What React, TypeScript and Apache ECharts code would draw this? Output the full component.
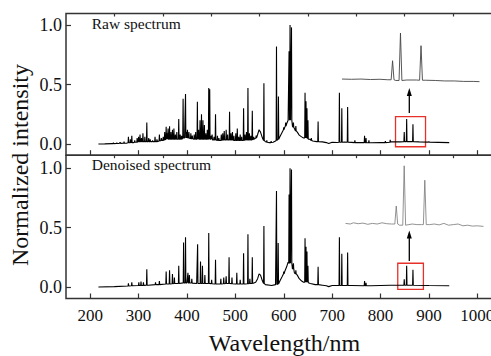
import React, { useEffect, useRef } from "react";
import * as echarts from "echarts";

const xTicks = [200, 300, 400, 500, 600, 700, 800, 900, 1000];
const xMinorTicks = [250, 350, 450, 550, 650, 750, 850, 950];
const yTicks = [0, 0.5, 1.0];
const yMinorTicks = [0.25, 0.75];

// Raw spectrum: baseline readings [wavelength, intensity]
const rawBaseline: [number, number][] = [
  [217, 0.0], [230, 0.001], [245, 0.003], [260, 0.005], [275, 0.007], [290, 0.012],
  [305, 0.018], [320, 0.02], [335, 0.022], [350, 0.03], [365, 0.04], [380, 0.04],
  [395, 0.05], [410, 0.045], [425, 0.04], [440, 0.04], [455, 0.035], [470, 0.03],
  [485, 0.035], [500, 0.03], [515, 0.03], [530, 0.035], [540, 0.045], [546, 0.08],
  [549, 0.12], [552, 0.1], [556, 0.05], [562, 0.02], [570, 0.012], [578, 0.015],
  [583, 0.025], [592, 0.06], [597, 0.1], [602, 0.14], [606, 0.17], [609, 0.2],
  [614, 0.2], [618, 0.15], [622, 0.13], [628, 0.1], [632, 0.075], [637, 0.06],
  [641, 0.05], [654, 0.04], [660, 0.025], [668, 0.02], [680, 0.018], [688, 0.012],
  [693, 0.004], [700, 0.015], [710, 0.013], [726, 0.016], [740, 0.014], [755, 0.012],
  [780, 0.01], [800, 0.012], [822, 0.018], [840, 0.018], [860, 0.02], [880, 0.018],
  [900, 0.016], [920, 0.014], [942, 0.012],
];
// Raw spectrum lines: [wavelength, peak intensity, foot intensity]
const rawPeaks: [number, number, number][] = [
  [248, 0.012, 0.003], [255, 0.012, 0.004], [262, 0.015, 0.005], [270, 0.02, 0.006],
  [279, 0.06, 0.01], [283, 0.04, 0.01], [286, 0.07, 0.012], [292, 0.03, 0.015],
  [297, 0.05, 0.015], [300, 0.06, 0.02], [303, 0.08, 0.02], [306, 0.05, 0.02],
  [309, 0.09, 0.02], [313, 0.06, 0.02], [317, 0.18, 0.02], [321, 0.05, 0.02],
  [324, 0.04, 0.02], [329, 0.03, 0.02], [334, 0.06, 0.02], [338, 0.04, 0.02],
  [343, 0.08, 0.025], [347, 0.05, 0.03], [351, 0.06, 0.03], [354, 0.1, 0.035],
  [357, 0.145, 0.04], [359, 0.09, 0.04], [361, 0.13, 0.04], [364, 0.15, 0.04],
  [367, 0.1, 0.04], [370, 0.12, 0.04], [373, 0.13, 0.04], [376, 0.08, 0.04],
  [379, 0.1, 0.04], [383, 0.21, 0.04], [386, 0.08, 0.04], [389, 0.07, 0.04],
  [392, 0.38, 0.05], [397, 0.42, 0.05], [399, 0.1, 0.05], [401, 0.12, 0.05],
  [404, 0.1, 0.05], [408, 0.09, 0.045], [411, 0.07, 0.045], [415, 0.08, 0.04],
  [418, 0.1, 0.04], [421.5, 0.355, 0.04], [424, 0.12, 0.04], [427, 0.2, 0.04],
  [430, 0.25, 0.04], [433, 0.2, 0.04], [436, 0.16, 0.04], [439, 0.09, 0.04],
  [442, 0.12, 0.04], [445, 0.47, 0.04], [447, 0.46, 0.04], [450, 0.07, 0.04],
  [452, 0.08, 0.035], [456, 0.06, 0.035], [459, 0.25, 0.035], [463, 0.07, 0.03],
  [466, 0.05, 0.03], [471, 0.08, 0.03], [474, 0.09, 0.035], [477, 0.11, 0.035],
  [481, 0.12, 0.035], [484, 0.08, 0.035], [488, 0.27, 0.035], [491, 0.09, 0.035],
  [494, 0.1, 0.035], [497, 0.07, 0.03], [501, 0.09, 0.03], [504, 0.13, 0.03],
  [507, 0.06, 0.03], [510, 0.08, 0.03], [513, 0.06, 0.03], [517, 0.3, 0.03],
  [520, 0.08, 0.035], [523, 0.1, 0.035], [526, 0.47, 0.035], [529, 0.09, 0.035],
  [532, 0.07, 0.035], [535, 0.28, 0.035], [538, 0.06, 0.04], [543, 0.07, 0.05],
  [559, 0.51, 0.03], [565, 0.03, 0.015], [574, 0.025, 0.012], [585, 0.82, 0.03],
  [589, 0.4, 0.04], [600, 0.14, 0.12], [604, 0.18, 0.15], [611, 0.78, 0.2],
  [613, 1.0, 0.21], [616, 0.98, 0.2], [620, 0.18, 0.14], [625, 0.15, 0.11],
  [644, 0.43, 0.05], [646, 0.36, 0.05], [648, 0.3, 0.045], [650, 0.2, 0.04],
  [657, 0.05, 0.03], [671, 0.19, 0.02], [715, 0.43, 0.015], [720, 0.3, 0.015],
  [732, 0.31, 0.015], [747, 0.03, 0.012], [767, 0.07, 0.012], [770, 0.05, 0.012],
  [776, 0.03, 0.01], [810, 0.025, 0.012], [820, 0.035, 0.015], [849, 0.1, 0.02],
  [854, 0.21, 0.02], [867, 0.165, 0.02], [900, 0.022, 0.016],
];

// Denoised spectrum
const denBaseline: [number, number][] = [
  [217, 0.0], [250, 0.003], [280, 0.008], [300, 0.012], [320, 0.015], [340, 0.02],
  [360, 0.025], [380, 0.03], [400, 0.035], [420, 0.03], [440, 0.03], [460, 0.025],
  [480, 0.03], [500, 0.025], [520, 0.025], [537, 0.03], [542, 0.04], [546, 0.07],
  [549, 0.11], [552, 0.1], [556, 0.05], [562, 0.02], [575, 0.012], [583, 0.02],
  [592, 0.05], [597, 0.09], [602, 0.13], [606, 0.17], [609, 0.21], [614, 0.2],
  [618, 0.15], [622, 0.12], [628, 0.1], [632, 0.07], [637, 0.05], [641, 0.04],
  [655, 0.03], [665, 0.02], [680, 0.015], [688, 0.01], [693, 0.003], [700, 0.012],
  [740, 0.012], [780, 0.01], [820, 0.015], [860, 0.015], [900, 0.012], [942, 0.01],
];
const denPeaks: [number, number, number][] = [
  [279, 0.03, 0.008], [286, 0.04, 0.01], [300.5, 0.04, 0.012], [305, 0.045, 0.013],
  [310, 0.04, 0.014], [317, 0.15, 0.015], [335, 0.04, 0.02], [343, 0.05, 0.02],
  [357, 0.13, 0.025], [364, 0.14, 0.025], [370, 0.11, 0.028], [374, 0.08, 0.03],
  [383, 0.18, 0.03], [393, 0.375, 0.035], [397, 0.42, 0.035], [402, 0.12, 0.035],
  [405, 0.1, 0.035], [410, 0.07, 0.033], [422, 0.36, 0.03], [428, 0.215, 0.03],
  [432, 0.18, 0.03], [437, 0.1, 0.03], [445, 0.455, 0.03], [451, 0.06, 0.028],
  [459, 0.23, 0.025], [470, 0.07, 0.025], [476, 0.08, 0.028], [481, 0.09, 0.03],
  [487, 0.25, 0.03], [493, 0.08, 0.028], [503, 0.12, 0.025], [510, 0.06, 0.025],
  [517, 0.285, 0.025], [526, 0.445, 0.028], [530, 0.07, 0.03], [535, 0.25, 0.03],
  [559, 0.515, 0.03], [585, 0.81, 0.02], [588.5, 0.37, 0.025], [600, 0.13, 0.11],
  [611, 0.78, 0.2], [613, 1.0, 0.21], [616, 0.99, 0.2], [620, 0.2, 0.15],
  [625, 0.14, 0.11], [644, 0.41, 0.04], [646, 0.34, 0.04], [648, 0.3, 0.04],
  [650, 0.18, 0.035], [671, 0.17, 0.02], [715, 0.42, 0.012], [720, 0.28, 0.012],
  [732, 0.29, 0.012], [767, 0.05, 0.01], [770, 0.035, 0.01], [849, 0.065, 0.015],
  [854, 0.18, 0.015], [867, 0.145, 0.015],
];

// Insets (magnified 817–904 nm, relative units)
const insetRawBaseline: [number, number][] = [
  [817, 0.02], [823, 0.015], [829, 0.02], [835, 0.01], [841, 0.015], [846, 0.005],
  [851, -0.01], [858, 0.0], [864, 0.0], [870, -0.005], [876, -0.01], [882, -0.02],
  [888, -0.02], [894, -0.03], [900, -0.03], [904, -0.035],
];
const insetRawPeaks: [number, number, number][] = [
  [849, 0.41, 0.005], [854, 1.0, -0.01], [867, 0.73, -0.005],
];
const insetDenBaseline: [number, number][] = [
  [817, 0.01], [820, 0.0], [822, 0.02], [825, 0.005], [828, 0.015], [831, -0.005],
  [834, 0.01], [837, 0.0], [840, 0.02], [843, 0.005], [846, 0.0], [851, -0.02],
  [857, -0.01], [859, 0.0], [862, -0.01], [865, -0.01], [870, -0.01], [873, 0.0],
  [876, -0.015], [879, 0.01], [882, -0.02], [885, -0.01], [888, 0.0], [891, -0.03],
  [894, -0.02], [897, -0.035], [900, -0.03], [904, -0.04],
];
const insetDenPeaks: [number, number, number][] = [
  [849, 0.3, 0.0], [854, 0.97, -0.02], [867, 0.73, -0.01],
];

function buildTrace(
  baseline: [number, number][],
  peaks: [number, number, number][],
  hw: number
): [number, number][] {
  const pts: [number, number][] = [];
  for (const [x, y] of baseline) {
    if (peaks.some((p) => Math.abs(p[0] - x) <= hw + 0.1)) continue;
    pts.push([x, y]);
  }
  for (const [x, top, foot] of peaks) {
    pts.push([x - hw, foot], [x, top], [x + hw, foot]);
  }
  pts.sort((a, b) => a[0] - b[0]);
  return pts;
}

const FONT = '"Liberation Serif", "Times New Roman", serif';
const AXIS_COLOR = "#333";
const RED = "#e8302a";

function tickAxisX(gridIndex: number, values: number[], len: number, labels: boolean) {
  return {
    type: "value",
    gridIndex,
    min: 150,
    max: 1050,
    axisLine: { show: false, onZero: false },
    splitLine: { show: false },
    axisTick: {
      show: true,
      inside: true,
      length: len,
      customValues: values,
      lineStyle: { color: AXIS_COLOR, width: 1.2 },
    },
    axisLabel: labels
      ? {
          show: true,
          customValues: values,
          margin: 8,
          fontFamily: FONT,
          fontSize: 17,
          color: "#111",
          formatter: (v: number) => String(v),
        }
      : { show: false },
  };
}

function tickAxisY(gridIndex: number, min: number, max: number, values: number[], len: number, labels: boolean) {
  return {
    type: "value",
    gridIndex,
    min,
    max,
    axisLine: { show: false, onZero: false },
    splitLine: { show: false },
    axisTick: {
      show: true,
      inside: true,
      length: len,
      customValues: values,
      lineStyle: { color: AXIS_COLOR, width: 1.2 },
    },
    axisLabel: labels
      ? {
          show: true,
          customValues: values,
          margin: 4,
          fontFamily: FONT,
          fontSize: 18,
          color: "#111",
          formatter: (v: number) => v.toFixed(1),
        }
      : { show: false },
  };
}

function hiddenAxis(gridIndex: number, min: number, max: number) {
  return {
    type: "value",
    gridIndex,
    min,
    max,
    show: false,
    splitLine: { show: false },
  };
}

export default function App() {
  const ref = useRef<HTMLDivElement>(null);

  useEffect(() => {
    if (!ref.current) return;
    const chart = echarts.init(ref.current, undefined, { renderer: "svg" });

    const rawTrace = buildTrace(rawBaseline, rawPeaks, 0.7);
    const denTrace = buildTrace(denBaseline, denPeaks, 0.7);
    const insetRawTrace = buildTrace(insetRawBaseline, insetRawPeaks, 0.9);
    const insetDenTrace = buildTrace(insetDenBaseline, insetDenPeaks, 0.9);

    const topMin = -0.094, topMax = 1.0966;
    const botMin = -0.097, botMax = 1.111;

    const gridBase = { outerBoundsMode: "none", containLabel: false };

    const option: any = {
      animation: false,
      backgroundColor: "#fff",
      grid: [
        { ...gridBase, left: 66, top: 13.5, width: 435.5, height: 141.7, show: true, borderColor: AXIS_COLOR, borderWidth: 1.5, backgroundColor: "transparent" },
        { ...gridBase, left: 66, top: 155.2, width: 435.5, height: 143.3, show: true, borderColor: AXIS_COLOR, borderWidth: 1.5, backgroundColor: "transparent" },
        { ...gridBase, left: 342, top: 33, width: 137.5, height: 47 },
        { ...gridBase, left: 345.5, top: 164, width: 138, height: 60 },
      ],
      xAxis: [
        tickAxisX(0, xTicks, 5, false),
        tickAxisX(0, xMinorTicks, 3, false),
        tickAxisX(1, xTicks, 5, true),
        tickAxisX(1, xMinorTicks, 3, false),
        hiddenAxis(2, 817, 904),
        hiddenAxis(3, 817, 904),
      ],
      yAxis: [
        tickAxisY(0, topMin, topMax, yTicks, 5, true),
        tickAxisY(0, topMin, topMax, yMinorTicks, 3, false),
        tickAxisY(1, botMin, botMax, yTicks, 5, true),
        tickAxisY(1, botMin, botMax, yMinorTicks, 3, false),
        hiddenAxis(2, 0, 1),
        hiddenAxis(3, 0, 1),
      ],
      series: [
        {
          type: "line",
          xAxisIndex: 0,
          yAxisIndex: 0,
          data: rawTrace,
          showSymbol: false,
          symbol: "none",
          lineStyle: { color: "#000", width: 1.1 },
          markArea: {
            silent: true,
            itemStyle: { color: "rgba(0,0,0,0)", borderColor: RED, borderWidth: 1.3 },
            data: [[{ xAxis: 831, yAxis: -0.023 }, { xAxis: 893, yAxis: 0.23 }]],
          },
        },
        {
          type: "line",
          xAxisIndex: 2,
          yAxisIndex: 2,
          data: denTrace,
          showSymbol: false,
          symbol: "none",
          lineStyle: { color: "#000", width: 1.1 },
          markArea: {
            silent: true,
            itemStyle: { color: "rgba(0,0,0,0)", borderColor: RED, borderWidth: 1.3 },
            data: [[{ xAxis: 835.6, yAxis: -0.02 }, { xAxis: 888.6, yAxis: 0.2 }]],
          },
        },
        {
          type: "line",
          xAxisIndex: 4,
          yAxisIndex: 4,
          data: insetRawTrace,
          showSymbol: false,
          symbol: "none",
          clip: false,
          lineStyle: { color: "#444", width: 0.9 },
        },
        {
          type: "line",
          xAxisIndex: 5,
          yAxisIndex: 5,
          data: insetDenTrace,
          showSymbol: false,
          symbol: "none",
          clip: false,
          lineStyle: { color: "#777", width: 0.8 },
        },
      ],
      graphic: [
        {
          type: "text", x: 91.7, y: 23, silent: true,
          style: { text: "Raw spectrum", fontFamily: FONT, fontSize: 15.5, fill: "#111", align: "left", verticalAlign: "middle" },
        },
        {
          type: "text", x: 91.7, y: 164.6, silent: true,
          style: { text: "Denoised spectrum", fontFamily: FONT, fontSize: 15.5, fill: "#111", align: "left", verticalAlign: "middle" },
        },
        {
          type: "text", x: 20, y: 165, rotation: Math.PI / 2, silent: true,
          style: { text: "Normalized intensity", fontFamily: FONT, fontSize: 24, fill: "#111", align: "center", verticalAlign: "middle" },
        },
        {
          type: "text", x: 284.5, y: 343, silent: true,
          style: { text: "Wavelength/nm", fontFamily: FONT, fontSize: 24, fill: "#111", align: "center", verticalAlign: "middle" },
        },
        {
          type: "line", silent: true,
          shape: { x1: 409.3, y1: 113, x2: 409.3, y2: 95 },
          style: { stroke: "#000", lineWidth: 1.3 },
        },
        {
          type: "polygon", silent: true,
          shape: { points: [[409.3, 88], [406.8, 96], [411.8, 96]] },
          style: { fill: "#000" },
        },
        {
          type: "line", silent: true,
          shape: { x1: 409.3, y1: 261, x2: 409.3, y2: 237 },
          style: { stroke: "#000", lineWidth: 1.3 },
        },
        {
          type: "polygon", silent: true,
          shape: { points: [[409.3, 230.5], [406.8, 238.5], [411.8, 238.5]] },
          style: { fill: "#000" },
        },
      ],
    };

    chart.setOption(option);
    return () => chart.dispose();
  }, []);

  return (
    <div
      ref={ref}
      style={{ position: "absolute", left: 0, top: 0, width: 491, height: 356, background: "#fff" }}
    />
  );
}
